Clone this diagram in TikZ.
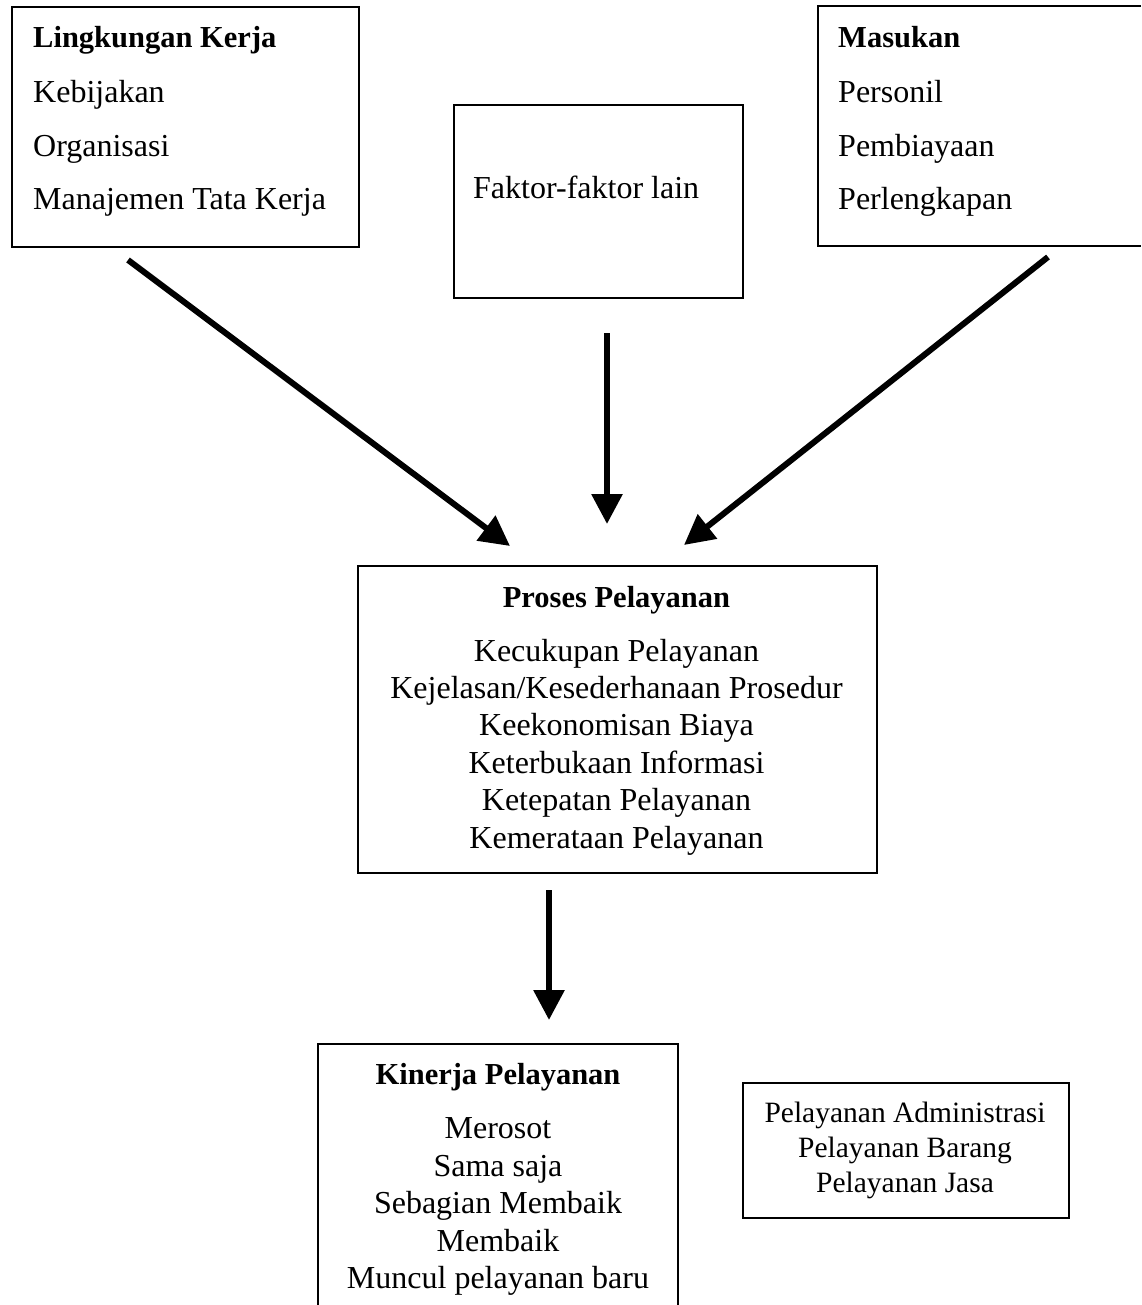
\documentclass[tikz,border=0pt]{standalone}
\usepackage{fontspec}
\setmainfont{Liberation Serif}
\usetikzlibrary{arrows.meta}
\begin{document}
\begin{tikzpicture}[x=1pt,y=-1pt,
  boxnode/.style={draw, line width=2pt, inner sep=0pt, anchor=north west},
  boxline/.style={draw, line width=2pt},
  body/.style={inner sep=0pt, font=\fontsize{32}{38}\selectfont},
  title/.style={inner sep=0pt, font=\fontsize{30.5}{36}\selectfont\bfseries},
  small/.style={inner sep=0pt, font=\fontsize{29.5}{35}\selectfont},
  arr/.style={line width=6pt, -{Triangle[width=30pt,length=30pt]}}]
\useasboundingbox (0,0) rectangle (1141,1305);

% boxes
\node[boxnode, minimum width=347pt, minimum height=240pt] (lk) at (11,6.5) {};
\node[boxnode, minimum width=289pt, minimum height=193pt] (fk) at (453,104) {};
\draw[boxline] (1141,6.5) -- (818,6.5) -- (818,246.5) -- (1141,246.5);
\node[boxnode, minimum width=519pt, minimum height=307pt] (pp) at (357,565) {};
\draw[boxline] (318,1305) -- (318,1044) -- (678,1044) -- (678,1305);
\node[boxnode, minimum width=326pt, minimum height=135pt] (pj) at (742,1082) {};

% Lingkungan Kerja
\node[title, anchor=base west] (lkt) at (33,48) {Lingkungan Kerja};
\node[body, anchor=base west] (lk1) at (33,103) {Kebijakan};
\node[body, anchor=base west] (lk2) at (33,157) {Organisasi};
\node[body, anchor=base west] (lk3) at (33,210) {Manajemen Tata Kerja};

% Faktor
\node[body, anchor=base west] (fkt) at (473,199) {Faktor-faktor lain};

% Masukan
\node[title, anchor=base west] (mst) at (838,48) {Masukan};
\node[body, anchor=base west] (ms1) at (838,103) {Personil};
\node[body, anchor=base west] (ms2) at (838,157) {Pembiayaan};
\node[body, anchor=base west] (ms3) at (838,210) {Perlengkapan};

% Proses
\node[title, anchor=base] (ppt) at (616.5,607) {Proses Pelayanan};
\node[body, anchor=base] (pp1) at (616.5,661) {Kecukupan Pelayanan};
\node[body, anchor=base] (pp2) at (616.5,698) {Kejelasan/Kesederhanaan Prosedur};
\node[body, anchor=base] (pp3) at (616.5,735.5) {Keekonomisan Biaya};
\node[body, anchor=base] (pp4) at (616.5,773) {Keterbukaan Informasi};
\node[body, anchor=base] (pp5) at (616.5,810) {Ketepatan Pelayanan};
\node[body, anchor=base] (pp6) at (616.5,848) {Kemerataan Pelayanan};

% Kinerja
\node[title, anchor=base] (kpt) at (498,1084) {Kinerja Pelayanan};
\node[body, anchor=base] (kp1) at (498,1138) {Merosot};
\node[body, anchor=base] (kp2) at (498,1176) {Sama saja};
\node[body, anchor=base] (kp3) at (498,1213) {Sebagian Membaik};
\node[body, anchor=base] (kp4) at (498,1251) {Membaik};
\node[body, anchor=base] (kp5) at (498,1288) {Muncul pelayanan baru};

% Pelayanan types
\node[small, anchor=base] (pj1) at (905,1122) {Pelayanan Administrasi};
\node[small, anchor=base] (pj2) at (905,1157) {Pelayanan Barang};
\node[small, anchor=base] (pj3) at (905,1192) {Pelayanan Jasa};

% arrows
\coordinate (a1s) at (128,260);
\coordinate (a1e) at (510,546);
\coordinate (a2s) at (607,333);
\coordinate (a2e) at (607,524);
\coordinate (a3s) at (1048,257);
\coordinate (a3e) at (684,545);
\coordinate (a4s) at (549,890);
\coordinate (a4e) at (549,1020);
\draw[arr] (a1s) -- (a1e);
\draw[arr] (a2s) -- (a2e);
\draw[arr] (a3s) -- (a3e);
\draw[arr] (a4s) -- (a4e);
\end{tikzpicture}
\end{document}
